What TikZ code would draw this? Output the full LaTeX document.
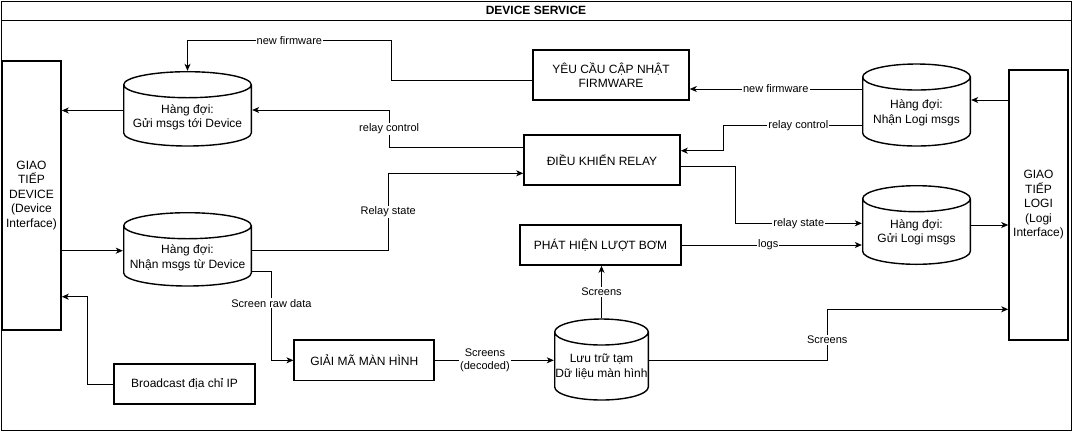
\documentclass[tikz,border=0pt]{standalone}
\usepackage{fontspec}
\setmainfont{Liberation Sans}
\usetikzlibrary{shapes.geometric, arrows.meta, calc}

\begin{document}
\begin{tikzpicture}
    [
        x=1pt, y=-1pt,
        every node/.style = {font=\fontsize{12}{14.5}\selectfont},
        block/.style = {draw, shape=rectangle, line width=1.6pt, align=center, inner sep=0pt},
        iface/.style = {block, minimum width=59pt},
        queue/.style 2 args = {shape=rectangle, align=center, inner sep=0pt, minimum height={2*#1},
            path picture={
                \draw[line width=1.4pt] let \p1 = ($(path picture bounding box.east)-(path picture bounding box.center)$) in
                    ($(path picture bounding box.center)+(-\x1+0.7pt, #1pt-13.7pt)$)
                    -- ($(path picture bounding box.center)+(-\x1+0.7pt, -#2pt+13.7pt)$)
                    arc[start angle=180, end angle=360, x radius=\x1-0.7pt, y radius=13pt]
                    -- ($(path picture bounding box.center)+(\x1-0.7pt, #1pt-13.7pt)$)
                    ($(path picture bounding box.center)+(0pt, #1pt-13.7pt)$) ellipse[x radius=\x1-0.7pt, y radius=13pt];
            }},
        link/.style = {line width=0.8pt, -{Stealth[length=7pt, width=6pt, inset=2pt]}},
        lbl/.style = {fill=white, inner sep=1pt, font=\fontsize{11}{13}\selectfont, align=center},
    ]

    \useasboundingbox (0,0) rectangle (1073,432);
    \node[draw, line width=0.8pt, minimum width=1070pt, minimum height=429pt, inner sep=0pt] (frame) at (536,215.5) {};
    \node[draw, line width=0.8pt, minimum width=1070pt, minimum height=19pt, inner sep=0pt, font=\bfseries\fontsize{12}{14}\selectfont] (title) at (536,10.5) {DEVICE SERVICE};

    % interfaces
    \node[iface, minimum height=269pt] (devif) at (31.5,195.5) {GIAO\\TIẾP\\DEVICE\\(Device\\Interface)};
    \node[iface, minimum height=270pt] (logif) at (1038.5,205) {GIAO\\TIẾP\\LOGI\\(Logi\\Interface)};

    % queues
    \node[queue={46.5}{29.2}, minimum width=129pt] (qsend) at (187.5,117.5) {Hàng đợi:\\Gửi msgs tới Device};
    \node[queue={46}{28.7}, minimum width=129pt] (qrecv) at (187.5,258) {Hàng đợi:\\Nhận msgs từ Device};
    \node[queue={49.7}{33.7}, minimum width=109pt] (logrecv) at (916.5,113) {Hàng đợi:\\Nhận Logi msgs};
    \node[queue={47.5}{32.5}, minimum width=109pt] (logsend) at (916.5,232.5) {Hàng đợi:\\Gửi Logi msgs};
    \node[queue={48.4}{34}, minimum width=95pt] (store) at (601.5,366.7) {Lưu trữ tạm\\Dữ liệu màn hình};

    % blocks
    \node[block, minimum width=156pt, minimum height=50pt] (fw) at (611,75) {YÊU CẦU CẬP NHẬT\\FIRMWARE};
    \node[block, minimum width=156pt, minimum height=50pt] (relay) at (602,160) {ĐIỀU KHIỂN RELAY};
    \node[block, minimum width=161pt, minimum height=40pt] (pump) at (600.5,245) {PHÁT HIỆN LƯỢT BƠM};
    \node[block, minimum width=140pt, minimum height=40.7pt] (decode) at (364.25,360.3) {GIẢI MÃ MÀN HÌNH};
    \node[block, minimum width=141pt, minimum height=40pt] (bcast) at (184.5,384) {Broadcast địa chỉ IP};

    % attach points
    \coordinate (fwin) at ($(fw.east)+(0,14)$);
    \coordinate (fwout) at ($(fw.west)+(0,5)$);
    \coordinate (qsout) at ($(qsend.west)+(0,-7)$);
    \coordinate (qsin) at ($(qsend.east)+(0,-7.5)$);
    \coordinate (lrin) at ($(logrecv.east)+(0,-13)$);
    \coordinate (lrout) at ($(logrecv.west)+(0,12.7)$);
    \coordinate (rein) at ($(relay.east)+(0,-9.3)$);
    \coordinate (reout) at ($(relay.west)+(0,-12.3)$);
    \coordinate (rein2) at ($(relay.west)+(0,13.3)$);
    \coordinate (reout2) at ($(relay.east)+(0,6.7)$);
    \coordinate (qrout) at ($(qrecv.east)+(0,-7.3)$);
    \coordinate (qrout2) at ($(qrecv.east)+(0,13)$);
    \coordinate (lsin) at ($(logsend.west)+(0,-9.2)$);
    \coordinate (lsout) at ($(logsend.east)+(0,-7.5)$);
    \coordinate (stout) at ($(store.east)+(0,-6.7)$);
    \coordinate (liin) at ($(logif.west)+(0,104.3)$);
    \coordinate (diin) at ($(devif.east)+(0,101.2)$);

    % firmware path
    \draw[link] (logrecv.west |- fwin) -- node[lbl]{new firmware} (fwin);
    \draw[link] (fwout) -- ++(-141,0) |- node[lbl, pos=0.75]{new firmware} ($(qsend.north)+(0,-30.3)$) -- (qsend.north);
    \draw[link] (qsout) -- (qsout -| devif.east);
    \draw[link] (logif.west |- lrin) -- (lrin);

    % relay path
    \draw[link] (lrout) -- node[lbl, pos=0.46]{relay control} ++(-138,0) |- (rein);
    \draw[link] (reout) -| node[lbl, pos=0.75]{relay control} ($(qsin)+(137,0)$) -- (qsin);
    \draw[link] (devif.east |- qrout) -- (qrecv.west |- qrout);
    \draw[link] (qrout) -| node[lbl, pos=0.75]{Relay state} ($(rein2)+(-135,0)$) -- (rein2);
    \draw[link] (reout2) -- ++(55,0) |- node[lbl, pos=0.75]{relay state} (lsin);
    \draw[link] (lsout) -- (lsout -| logif.west);

    % screen path
    \draw[link] (qrout2) -| node[lbl, pos=0.68]{Screen raw data} ($(decode.west)+(-22,0)$) -- (decode.west);
    \draw[link] (decode.east) -- node[lbl, pos=0.42]{Screens\\(decoded)} (decode.east -| store.west);
    \draw[link] (store.north) -- node[lbl]{Screens} (store.north |- pump.south);
    \draw[link] (pump.east) -- node[lbl, pos=0.48]{logs} (pump.east -| logsend.west);
    \draw[link] (stout) -| node[lbl, pos=0.7]{Screens} ($(liin)+(-181,0)$) -- (liin);
    \draw[link] (bcast.west) -- ++(-26,0) |- (diin);
\end{tikzpicture}
\end{document}
